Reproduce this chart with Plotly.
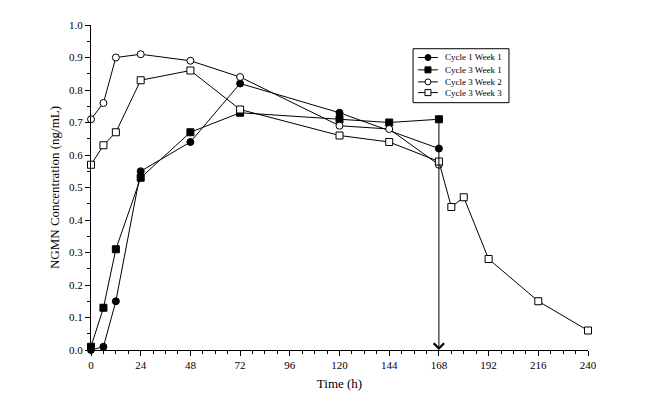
import plotly.graph_objects as go

# sampling times (h)
t_c1w1 = [0, 6, 12, 24, 48, 72, 120, 168]
c1w1 = [0.00, 0.01, 0.15, 0.55, 0.64, 0.82, 0.73, 0.62]

t_c3w1 = [0, 6, 12, 24, 48, 72, 120, 144, 168]
c3w1 = [0.01, 0.13, 0.31, 0.53, 0.67, 0.73, 0.71, 0.70, 0.71]

t_c3w2 = [0, 6, 12, 24, 48, 72, 120, 144, 168]
c3w2 = [0.71, 0.76, 0.90, 0.91, 0.89, 0.84, 0.69, 0.68, 0.57]

t_c3w3 = [0, 6, 12, 24, 48, 72, 120, 144, 168, 174, 180, 192, 216, 240]
c3w3 = [0.57, 0.63, 0.67, 0.83, 0.86, 0.74, 0.66, 0.64, 0.58, 0.44, 0.47, 0.28, 0.15, 0.06]

x_ticks = [0, 24, 48, 72, 96, 120, 144, 168, 192, 216, 240]
y_ticks = [0.0, 0.1, 0.2, 0.3, 0.4, 0.5, 0.6, 0.7, 0.8, 0.9, 1.0]

font = "Liberation Serif"

fig = go.Figure()

series = [
    ("Cycle 1 Week 1", t_c1w1, c1w1, "circle", "black"),
    ("Cycle 3 Week 1", t_c3w1, c3w1, "square", "black"),
    ("Cycle 3 Week 2", t_c3w2, c3w2, "circle", "white"),
    ("Cycle 3 Week 3", t_c3w3, c3w3, "square", "white"),
]
for name, t, v, sym, fill in series:
    fig.add_trace(go.Scatter(
        x=t, y=v, name=name, mode="lines+markers",
        line=dict(color="black", width=1),
        marker=dict(symbol=sym, size=7, color=fill, line=dict(color="black", width=1)),
        cliponaxis=False, showlegend=False,
    ))

# dosing arrow at 168 h
fig.add_annotation(x=168, y=0, ax=168, ay=c3w1[-1], xref="x", yref="y",
                   axref="x", ayref="y", showarrow=True, arrowhead=4,
                   arrowsize=2, arrowwidth=1, arrowcolor="black", text="")

# compact legend box (plotly's own legend rows are too tall for this one)
leg_x0, leg_x1, leg_top, leg_bot = 0.648, 0.841, 0.927, 0.761
row_y = [0.900, 0.862, 0.825, 0.792]
sym_x0, sym_x1, sym_xc, txt_x = 0.658, 0.698, 0.678, 0.708

fig.add_shape(type="rect", xref="paper", yref="paper", x0=leg_x0, x1=leg_x1,
              y0=leg_bot, y1=leg_top, line=dict(color="black", width=1),
              fillcolor="white", layer="above")
for (name, _, _, sym, fill), ry in zip(series, row_y):
    fig.add_shape(type="line", xref="paper", yref="paper", x0=sym_x0, x1=sym_x1,
                  y0=ry, y1=ry, line=dict(color="black", width=1), layer="above")
    fig.add_shape(type="circle" if sym == "circle" else "rect",
                  xref="paper", yref="paper", xsizemode="pixel", ysizemode="pixel",
                  xanchor=sym_xc, yanchor=ry, x0=-3, x1=3, y0=-3, y1=3,
                  fillcolor=fill, line=dict(color="black", width=1), layer="above")
    fig.add_annotation(x=txt_x, y=ry, xref="paper", yref="paper", text=name,
                       showarrow=False, xanchor="left", yanchor="middle",
                       font=dict(family=font, size=9, color="black"))

# page body has an 8px margin, so the figure is 8px smaller than the window
fig.update_layout(
    width=638, height=409,
    margin=dict(l=83, r=58, t=11, b=67),
    paper_bgcolor="white", plot_bgcolor="white",
    font=dict(family=font, size=11, color="black"),
    showlegend=False,
)
fig.update_xaxes(
    range=[0, 240], tickvals=x_ticks, showgrid=False, zeroline=False,
    showline=True, linecolor="black", linewidth=1,
    ticks="outside", ticklen=5, tickcolor="black",
    minor=dict(dtick=6, ticks="outside", ticklen=3, tickcolor="black"),
    title=dict(text="Time (h)", font=dict(size=13), standoff=8),
)
fig.update_yaxes(
    range=[0, 1.0], tickvals=y_ticks, tickformat=".1f", showgrid=False,
    zeroline=False, showline=True, linecolor="black", linewidth=1,
    ticks="outside", ticklen=5, tickcolor="black",
    minor=dict(dtick=0.05, ticks="outside", ticklen=3, tickcolor="black"),
    title=dict(text="NGMN Concentration (ng/mL)", font=dict(size=13), standoff=6),
)

fig.write_html("out.html")
